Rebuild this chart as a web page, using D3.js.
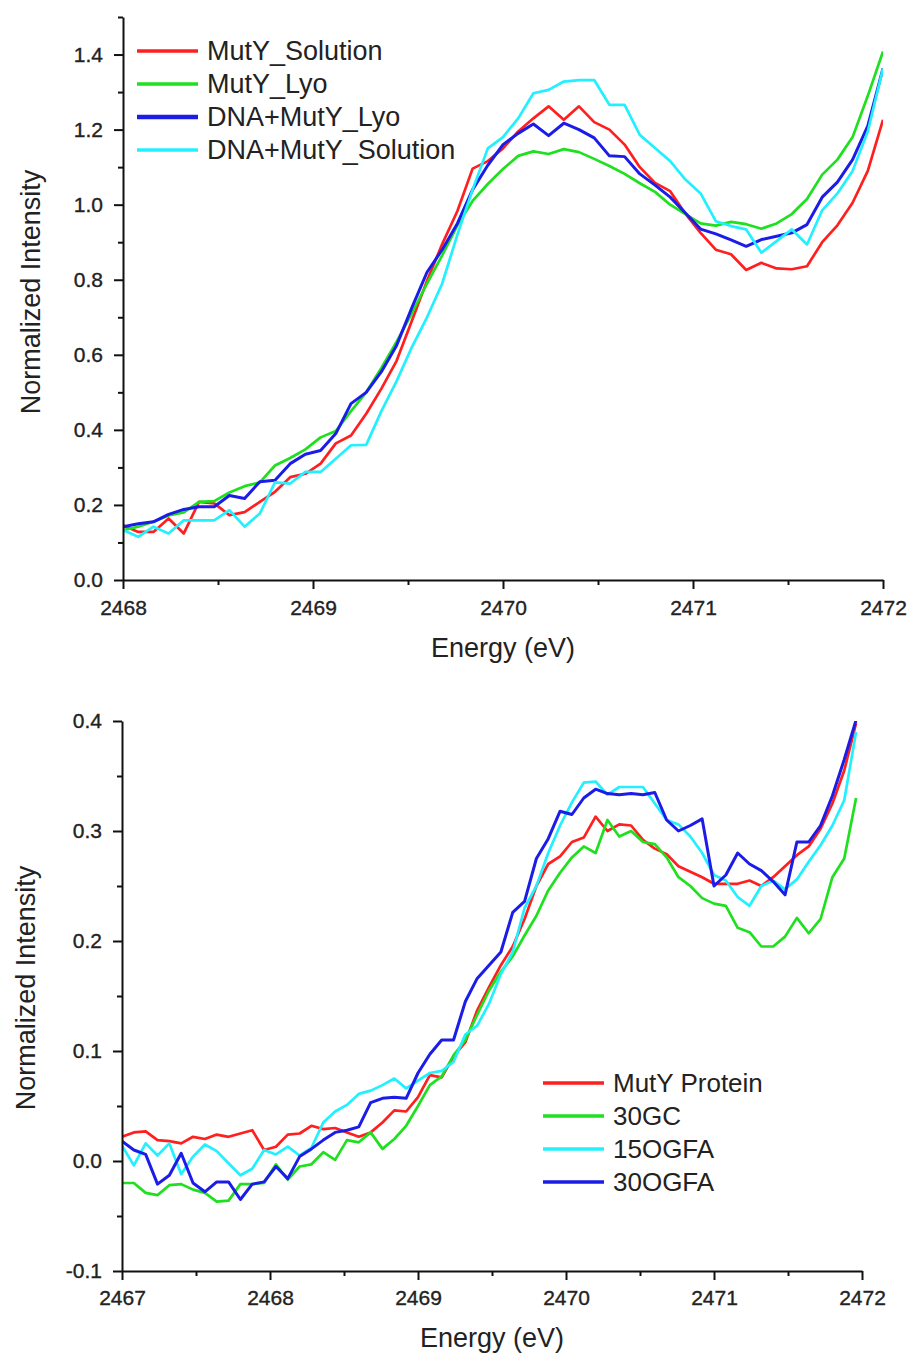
<!DOCTYPE html>
<html>
<head>
<meta charset="utf-8">
<script src="https://cdn.jsdelivr.net/npm/d3@7"></script>
<style>
  body { margin: 0; background: #fff; }
  text { font-family: "Liberation Sans", Arial, sans-serif; fill: #222; }
</style>
</head>
<body>
<div id="chart"></div>
<script>
// ---- top panel data (energy in eV, normalized intensity) ----
const energyTop = [
  2468.00, 2468.08, 2468.16, 2468.24, 2468.32, 2468.40, 2468.48, 2468.56, 2468.64, 2468.72,
  2468.80, 2468.88, 2468.96, 2469.04, 2469.12, 2469.20, 2469.28, 2469.36, 2469.44, 2469.52,
  2469.60, 2469.68, 2469.76, 2469.84, 2469.92, 2470.00, 2470.08, 2470.16, 2470.24, 2470.32,
  2470.40, 2470.48, 2470.56, 2470.64, 2470.72, 2470.80, 2470.88, 2470.96, 2471.04, 2471.12,
  2471.20, 2471.28, 2471.36, 2471.44, 2471.52, 2471.60, 2471.68, 2471.76, 2471.84, 2471.92,
  2472.00
];
const mutySolution = [
  0.146, 0.128, 0.128, 0.164, 0.124, 0.208, 0.204, 0.173, 0.181, 0.208,
  0.235, 0.274, 0.283, 0.310, 0.364, 0.385, 0.443, 0.510, 0.584, 0.690,
  0.797, 0.895, 0.983, 1.096, 1.116, 1.150, 1.195, 1.230, 1.262, 1.226,
  1.262, 1.220, 1.200, 1.160, 1.100, 1.058, 1.036, 0.976, 0.925, 0.880,
  0.868, 0.826, 0.845, 0.830, 0.828, 0.836, 0.900, 0.945, 1.005, 1.090,
  1.226
];
const mutyLyo = [
  0.133, 0.142, 0.155, 0.172, 0.180, 0.208, 0.210, 0.233, 0.250, 0.260,
  0.305, 0.325, 0.348, 0.380, 0.397, 0.450, 0.500, 0.565, 0.635, 0.710,
  0.790, 0.865, 0.945, 1.010, 1.055, 1.095, 1.130, 1.142, 1.135, 1.148,
  1.140, 1.122, 1.103, 1.082, 1.057, 1.034, 1.000, 0.975, 0.950, 0.944,
  0.954, 0.948, 0.936, 0.950, 0.975, 1.015, 1.080, 1.120, 1.180, 1.290,
  1.408
];
const dnaMutyLyo = [
  0.142, 0.150, 0.155, 0.175, 0.188, 0.195, 0.195, 0.225, 0.217, 0.262,
  0.266, 0.310, 0.335, 0.345, 0.390, 0.470, 0.500, 0.555, 0.625, 0.725,
  0.820, 0.880, 0.950, 1.040, 1.105, 1.160, 1.190, 1.215, 1.184, 1.217,
  1.200, 1.178, 1.130, 1.128, 1.082, 1.052, 1.020, 0.978, 0.935, 0.922,
  0.906, 0.889, 0.907, 0.916, 0.925, 0.947, 1.020, 1.060, 1.120, 1.210,
  1.363
];
const dnaMutySolution = [
  0.133, 0.115, 0.142, 0.124, 0.159, 0.159, 0.159, 0.186, 0.142, 0.177,
  0.260, 0.257, 0.288, 0.288, 0.323, 0.359, 0.360, 0.450, 0.530, 0.620,
  0.700, 0.790, 0.920, 1.040, 1.150, 1.180, 1.230, 1.297, 1.306, 1.328,
  1.332, 1.332, 1.266, 1.266, 1.186, 1.151, 1.116, 1.067, 1.030, 0.956,
  0.943, 0.934, 0.872, 0.903, 0.934, 0.894, 0.985, 1.030, 1.090, 1.195,
  1.363
];

// ---- bottom panel data ----
const energyBottom = [
  2467.00, 2467.08, 2467.16, 2467.24, 2467.32, 2467.40, 2467.48, 2467.56, 2467.64, 2467.72,
  2467.80, 2467.88, 2467.96, 2468.04, 2468.12, 2468.20, 2468.28, 2468.36, 2468.44, 2468.52,
  2468.60, 2468.68, 2468.76, 2468.84, 2468.92, 2469.00, 2469.08, 2469.16, 2469.24, 2469.32,
  2469.40, 2469.48, 2469.56, 2469.64, 2469.72, 2469.80, 2469.88, 2469.96, 2470.04, 2470.12,
  2470.20, 2470.28, 2470.36, 2470.44, 2470.52, 2470.60, 2470.68, 2470.76, 2470.84, 2470.92,
  2471.00, 2471.08, 2471.16, 2471.24, 2471.32, 2471.40, 2471.48, 2471.56, 2471.64, 2471.72,
  2471.80, 2471.88, 2471.96
];
const mutyProtein = [
  0.022, 0.026, 0.027, 0.019, 0.018, 0.016, 0.022, 0.020, 0.024, 0.022,
  0.025, 0.028, 0.010, 0.013, 0.024, 0.025, 0.032, 0.029, 0.030, 0.026,
  0.022, 0.026, 0.035, 0.046, 0.045, 0.058, 0.078, 0.076, 0.095, 0.108,
  0.137, 0.158, 0.178, 0.195, 0.220, 0.250, 0.270, 0.277, 0.290, 0.294,
  0.313, 0.300, 0.306, 0.305, 0.292, 0.284, 0.279, 0.268, 0.263, 0.258,
  0.252, 0.252, 0.252, 0.255, 0.250, 0.258, 0.268, 0.278, 0.286, 0.302,
  0.325, 0.355, 0.398
];
const gc30 = [
  -0.020, -0.020, -0.029, -0.031, -0.022, -0.021, -0.026, -0.029, -0.037, -0.036,
  -0.021, -0.021, -0.020, -0.003, -0.017, -0.005, -0.003, 0.008, 0.001, 0.019,
  0.017, 0.026, 0.011, 0.020, 0.032, 0.050, 0.069, 0.077, 0.096, 0.110,
  0.133, 0.155, 0.172, 0.186, 0.205, 0.223, 0.246, 0.262, 0.276, 0.286,
  0.280, 0.310, 0.295, 0.300, 0.290, 0.288, 0.276, 0.258, 0.250, 0.239,
  0.234, 0.232, 0.212, 0.208, 0.195, 0.195, 0.204, 0.221, 0.207, 0.220,
  0.258, 0.275, 0.330
];
const ogfa15 = [
  0.014, -0.004, 0.016, 0.005, 0.016, -0.012, 0.004, 0.015, 0.009, -0.002,
  -0.013, -0.007, 0.010, 0.006, 0.013, 0.005, 0.012, 0.035, 0.045, 0.051,
  0.061, 0.064, 0.069, 0.075, 0.066, 0.073, 0.080, 0.082, 0.090, 0.115,
  0.123, 0.143, 0.170, 0.190, 0.230, 0.250, 0.280, 0.305, 0.326, 0.344,
  0.345, 0.333, 0.340, 0.340, 0.340, 0.325, 0.310, 0.306, 0.295, 0.280,
  0.260, 0.255, 0.240, 0.232, 0.250, 0.255, 0.247, 0.256, 0.272, 0.287,
  0.305, 0.328, 0.390
];
const ogfa30 = [
  0.018, 0.010, 0.006, -0.021, -0.013, 0.007, -0.020, -0.028, -0.019, -0.019,
  -0.035, -0.021, -0.019, -0.005, -0.016, 0.004, 0.011, 0.019, 0.026, 0.028,
  0.031, 0.053, 0.057, 0.058, 0.057, 0.080, 0.097, 0.110, 0.110, 0.145,
  0.166, 0.178, 0.190, 0.226, 0.236, 0.275, 0.293, 0.318, 0.315, 0.330,
  0.338, 0.334, 0.333, 0.334, 0.333, 0.335, 0.310, 0.300, 0.305, 0.311,
  0.250, 0.260, 0.280, 0.270, 0.264, 0.254, 0.242, 0.290, 0.290, 0.305,
  0.332, 0.365, 0.401
];

// ---- tick values ----
const topXMajor = [2468, 2469, 2470, 2471, 2472];
const topXMinor = [2468.5, 2469.5, 2470.5, 2471.5];
const topYMajor = [0.0, 0.2, 0.4, 0.6, 0.8, 1.0, 1.2, 1.4];
const topYMinor = [0.1, 0.3, 0.5, 0.7, 0.9, 1.1, 1.3, 1.5];
const botXMajor = [2467, 2468, 2469, 2470, 2471, 2472];
const botXMinor = [2467.5, 2468.5, 2469.5, 2470.5, 2471.5];
const botYMajor = [-0.1, 0.0, 0.1, 0.2, 0.3, 0.4];
const botYMinor = [-0.05, 0.05, 0.15, 0.25, 0.35];

const RED = "#ff1f1f", GREEN = "#1fe01f", BLUE = "#1c1ce8", CYAN = "#22f0ff";

const svg = d3.select("#chart").append("svg")
    .attr("width", 912)
    .attr("height", 1354);

function styleAxis(g, fontSize) {
    g.select(".domain").attr("stroke", "#111").attr("stroke-width", 2);
    g.selectAll(".tick line").attr("stroke", "#111").attr("stroke-width", 2);
    g.selectAll(".tick text")
        .attr("font-size", fontSize)
        .attr("font-family", '"Liberation Sans", Arial, sans-serif')
        .attr("fill", "#222")
        .attr("stroke", "#222")
        .attr("stroke-width", 0.35);
}

function drawPanel(p) {
    const x = d3.scaleLinear(p.xDomain, [p.left, p.right]);
    const y = d3.scaleLinear(p.yDomain, [p.bottom, p.top]);
    const g = svg.append("g");

    g.append("clipPath").attr("id", p.id + "-clip")
        .append("rect")
        .attr("x", p.left).attr("y", p.top)
        .attr("width", p.right - p.left).attr("height", p.bottom - p.top);

    const line = d3.line()
        .x((d, i) => x(p.energy[i]))
        .y(d => y(d));

    p.series.forEach(s => {
        g.append("path")
            .datum(s.values)
            .attr("clip-path", `url(#${p.id}-clip)`)
            .attr("d", line)
            .attr("fill", "none")
            .attr("stroke", s.color)
            .attr("stroke-width", s.width || 2.7)
            .attr("stroke-linejoin", "round");
    });

    // minor ticks
    g.append("g").attr("transform", `translate(0,${p.bottom})`)
        .call(d3.axisBottom(x).tickValues(p.xMinor).tickSize(5).tickFormat(""))
        .call(a => { a.select(".domain").remove(); styleAxis(a, 21); });
    g.append("g").attr("transform", `translate(${p.left},0)`)
        .call(d3.axisLeft(y).tickValues(p.yMinor).tickSize(5).tickFormat(""))
        .call(a => { a.select(".domain").remove(); styleAxis(a, 21); });

    // major ticks and axis lines
    g.append("g").attr("transform", `translate(0,${p.bottom})`)
        .call(d3.axisBottom(x).tickValues(p.xMajor).tickSize(9).tickSizeOuter(0)
            .tickPadding(p.xPad).tickFormat(d3.format("d")))
        .call(a => styleAxis(a, 21));
    g.append("g").attr("transform", `translate(${p.left},0)`)
        .call(d3.axisLeft(y).tickValues(p.yMajor).tickSize(9).tickSizeOuter(0)
            .tickPadding(11).tickFormat(d => d.toFixed(1)))
        .call(a => styleAxis(a, 21));

    // axis titles
    g.append("text")
        .attr("x", (p.left + p.right) / 2)
        .attr("y", p.xTitleY)
        .attr("text-anchor", "middle")
        .attr("font-size", 27)
        .text("Energy (eV)");
    g.append("text")
        .attr("transform", `translate(${p.yTitleX},${p.yTitleY}) rotate(-90)`)
        .attr("text-anchor", "middle")
        .attr("font-size", 27)
        .text("Normalized Intensity");

    // legend
    const leg = g.append("g");
    p.series.forEach((s, i) => {
        const ly = p.legY + i * 33;
        leg.append("line")
            .attr("x1", p.legX).attr("x2", p.legX + 61)
            .attr("y1", ly).attr("y2", ly)
            .attr("stroke", s.color)
            .attr("stroke-width", s.legWidth || 3.5);
        leg.append("text")
            .attr("x", p.legX + 70)
            .attr("y", ly + 9)
            .attr("font-size", p.legFont)
            .text(s.name);
    });
}

drawPanel({
    id: "top",
    left: 123, right: 883, top: 17, bottom: 580,
    xDomain: [2468, 2472], yDomain: [0, 1.5],
    energy: energyTop,
    xMajor: topXMajor, xMinor: topXMinor, yMajor: topYMajor, yMinor: topYMinor,
    xPad: 11,
    xTitleY: 657, yTitleX: 40, yTitleY: 292,
    legX: 137, legY: 51, legFont: 27,
    series: [
        { name: "MutY_Solution", values: mutySolution, color: RED },
        { name: "MutY_Lyo", values: mutyLyo, color: GREEN },
        { name: "DNA+MutY_Lyo", values: dnaMutyLyo, color: BLUE, width: 3, legWidth: 4.5 },
        { name: "DNA+MutY_Solution", values: dnaMutySolution, color: CYAN }
    ]
});

drawPanel({
    id: "bottom",
    left: 122, right: 862, top: 721, bottom: 1271,
    xDomain: [2467, 2472], yDomain: [-0.1, 0.4],
    energy: energyBottom,
    xMajor: botXMajor, xMinor: botXMinor, yMajor: botYMajor, yMinor: botYMinor,
    xPad: 10,
    xTitleY: 1347, yTitleX: 35, yTitleY: 988,
    legX: 543, legY: 1083, legFont: 26,
    series: [
        { name: "MutY Protein", values: mutyProtein, color: RED },
        { name: "30GC", values: gc30, color: GREEN },
        { name: "15OGFA", values: ogfa15, color: CYAN },
        { name: "30OGFA", values: ogfa30, color: BLUE, width: 3 }
    ]
});
</script>
</body>
</html>
